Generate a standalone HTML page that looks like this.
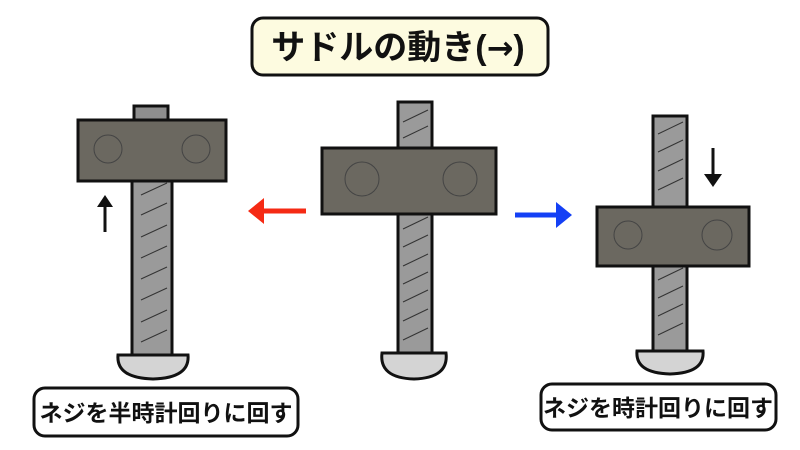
<!DOCTYPE html>
<html><head><meta charset="utf-8"><style>
html,body{margin:0;padding:0;background:#fff;width:800px;height:450px;overflow:hidden}
text{font-family:"Liberation Sans","Noto Sans CJK JP",sans-serif;font-weight:bold}
</style></head><body>
<svg width="800" height="450" viewBox="0 0 800 450" xmlns="http://www.w3.org/2000/svg">
<!-- title -->
<rect x="252" y="18" width="296" height="57" rx="11" fill="#fdfbe0" stroke="#111" stroke-width="3"/>
<text x="398" y="59" font-size="34" text-anchor="middle" fill="#111">サドルの動き(<tspan font-family="DejaVu Sans" font-size="32">→</tspan>)</text>

<!-- LEFT -->
<rect x="134" y="106" width="34" height="14" fill="#8e8e8e" stroke="#111" stroke-width="3"/>
<rect x="132" y="181" width="40" height="174" fill="#9a9a9a" stroke="#111" stroke-width="3"/>
<g stroke="#333" stroke-width="1">
<line x1="141" y1="195" x2="167" y2="183"/><line x1="141" y1="215" x2="167" y2="203"/><line x1="141" y1="237" x2="167" y2="225"/><line x1="141" y1="258" x2="167" y2="246"/><line x1="141" y1="279" x2="167" y2="267"/><line x1="141" y1="300" x2="167" y2="288"/><line x1="141" y1="322" x2="167" y2="310"/><line x1="141" y1="342" x2="167" y2="330"/>
</g>
<path d="M118,355 L188,355 Q190,378 153,379 Q116,378 118,355Z" fill="#d4d4d4" stroke="#111" stroke-width="3"/>
<rect x="78" y="120" width="148" height="61" fill="#6b6860" stroke="#111" stroke-width="3"/>
<circle cx="108" cy="149" r="14" fill="none" stroke="#444" stroke-width="1"/>
<circle cx="196" cy="149" r="14" fill="none" stroke="#444" stroke-width="1"/>
<line x1="105" y1="232" x2="105" y2="205" stroke="#111" stroke-width="3"/>
<path d="M105,195 L97,207 L113,207Z" fill="#111"/>
<line x1="306" y1="211" x2="256" y2="211" stroke="#f52a14" stroke-width="5"/>
<path d="M248,211 L264,198 L264,224Z" fill="#f52a14"/>

<!-- CENTER -->
<rect x="398" y="102" width="34" height="251" fill="#9a9a9a" stroke="#111" stroke-width="3"/>
<g stroke="#333" stroke-width="1">
<line x1="403" y1="122" x2="428" y2="110"/><line x1="403" y1="138" x2="428" y2="126"/>
<line x1="403" y1="229" x2="428" y2="217"/><line x1="403" y1="247" x2="428" y2="235"/><line x1="403" y1="266" x2="428" y2="254"/><line x1="403" y1="284" x2="428" y2="272"/><line x1="403" y1="302" x2="428" y2="290"/><line x1="403" y1="321" x2="428" y2="309"/><line x1="403" y1="340" x2="428" y2="328"/>
</g>
<path d="M382,353 L446,353 Q449,378 414,379 Q379,378 382,353Z" fill="#d4d4d4" stroke="#111" stroke-width="3"/>
<rect x="322" y="148" width="174" height="66" fill="#6b6860" stroke="#111" stroke-width="3"/>
<circle cx="362" cy="179" r="17" fill="none" stroke="#444" stroke-width="1"/>
<circle cx="460" cy="179" r="17" fill="none" stroke="#444" stroke-width="1"/>

<!-- RIGHT -->
<rect x="653" y="116" width="34" height="235" fill="#9a9a9a" stroke="#111" stroke-width="3"/>
<g stroke="#333" stroke-width="1">
<line x1="658" y1="134" x2="683" y2="122"/><line x1="658" y1="152" x2="683" y2="140"/><line x1="658" y1="171" x2="683" y2="159"/><line x1="658" y1="190" x2="683" y2="178"/>
<line x1="658" y1="280" x2="683" y2="268"/><line x1="658" y1="298" x2="683" y2="286"/><line x1="658" y1="316" x2="683" y2="304"/><line x1="658" y1="335" x2="683" y2="323"/>
</g>
<path d="M637,351 L703,351 Q705,373 670,374 Q635,373 637,351Z" fill="#d4d4d4" stroke="#111" stroke-width="3"/>
<rect x="597" y="207" width="152" height="59" fill="#6b6860" stroke="#111" stroke-width="3"/>
<circle cx="628" cy="235" r="14" fill="none" stroke="#444" stroke-width="1"/>
<circle cx="717" cy="235" r="15" fill="none" stroke="#444" stroke-width="1"/>
<line x1="713" y1="148" x2="713" y2="176" stroke="#111" stroke-width="3"/>
<path d="M713,187 L704,174 L722,174Z" fill="#111"/>
<line x1="515" y1="215" x2="562" y2="215" stroke="#1440f5" stroke-width="5"/>
<path d="M572,215 L556,202 L556,228Z" fill="#1440f5"/>

<!-- labels -->
<rect x="34" y="388" width="264" height="48" rx="11" fill="#fff" stroke="#111" stroke-width="3"/>
<text x="166" y="421" font-size="23" text-anchor="middle" fill="#111">ネジを半時計回りに回す</text>
<rect x="541" y="384" width="235" height="46" rx="11" fill="#fff" stroke="#111" stroke-width="3"/>
<text x="658" y="416" font-size="23" text-anchor="middle" fill="#111">ネジを時計回りに回す</text>
</svg>
</body></html>
